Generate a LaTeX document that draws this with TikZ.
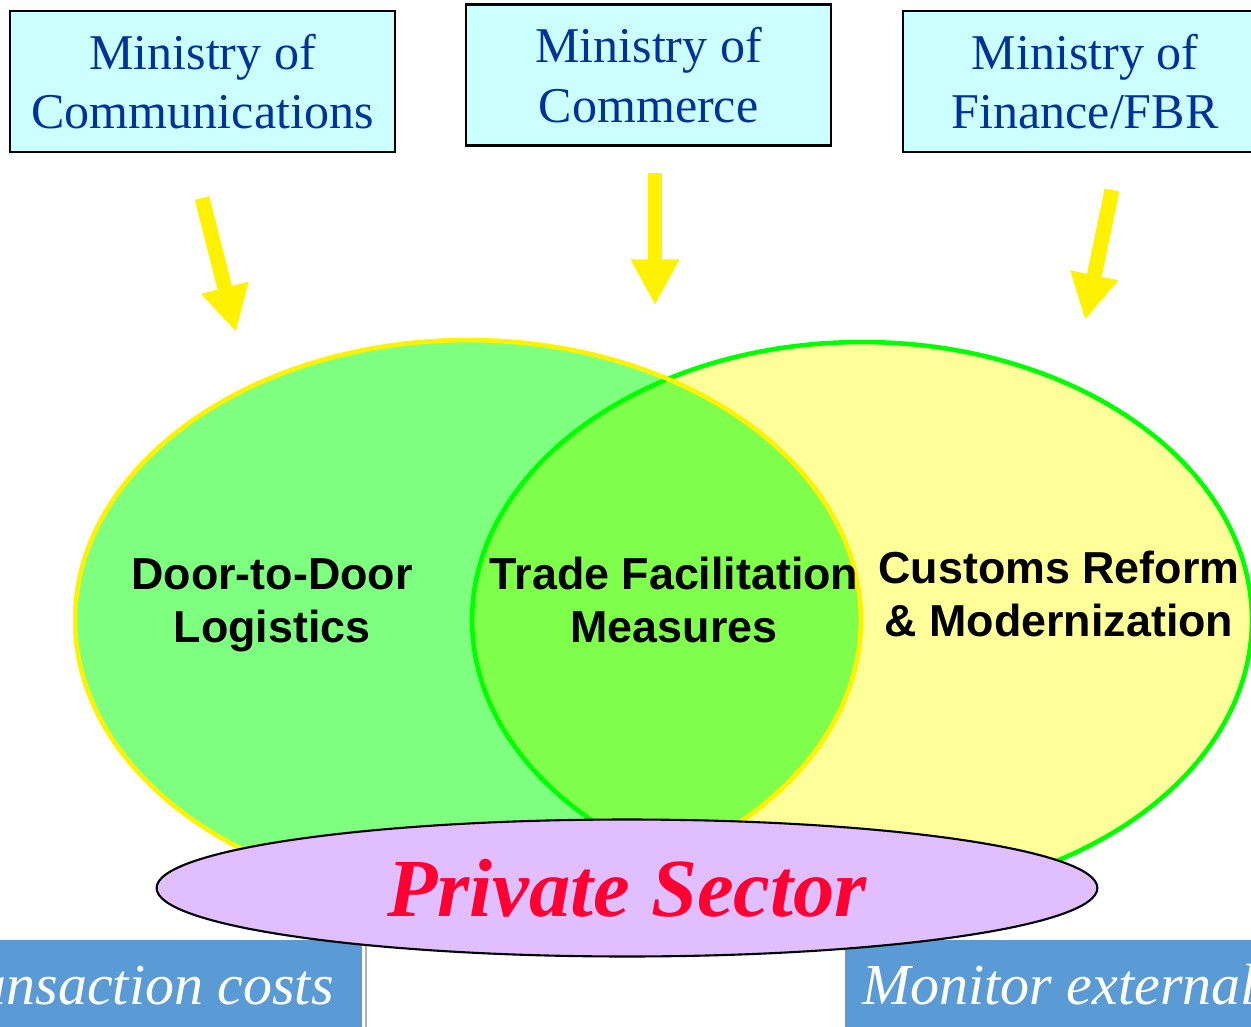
\documentclass[tikz,border=0pt]{standalone}
\usepackage{fontspec}
\setmainfont{Liberation Serif}
\setsansfont{Liberation Sans}
\usetikzlibrary{arrows.meta, shapes.geometric, positioning}

\definecolor{boxcyan}{RGB}{204,255,255}
\definecolor{ministryblue}{RGB}{0,51,153}
\definecolor{venngreen}{RGB}{0,255,0}
\definecolor{vennyellow}{RGB}{255,255,153}
\definecolor{lavender}{RGB}{225,190,255}
\definecolor{sectorred}{RGB}{255,0,51}
\definecolor{barblue}{RGB}{91,155,213}

\begin{document}
\begin{tikzpicture}[x=0.02cm, y=-0.02cm,
  ministry/.style={draw=black, line width=1.2pt, fill=boxcyan, text=ministryblue, align=center,
    font=\fontsize{28.5}{34}\selectfont, minimum height=2.82cm, inner sep=0pt},
  area/.style={align=center, font=\sffamily\bfseries\fontsize{25.5}{30}\selectfont},
  feed/.style={yellow, line width=8.5pt, -{Triangle[length=26pt, width=26pt]}},
  venn/.style={ellipse, line width=2.6pt, inner sep=0pt},
  bartext/.style={text=white, font=\itshape\fontsize{33}{38}\selectfont, inner sep=0pt}
]
\useasboundingbox (0,0) rectangle (1251,1027);
\clip (0,0) rectangle (1251,1027);

% the three ministries
\node[ministry, minimum width=7.7cm] (comm) at (202.5,81.5) {Ministry of\\Communications};
\node[ministry, minimum width=7.3cm] (commerce) at (648.5,75) {Ministry of\\Commerce};
\node[ministry, minimum width=7.28cm] (finance) at (1085,81.5) {Ministry of\\Finance/FBR};

% circles
\node[venn, draw=venngreen, fill=vennyellow, minimum width=15.6cm, minimum height=11.12cm] (customs) at (862,620) {};
\node[venn, draw=yellow, fill=venngreen, fill opacity=.5, draw opacity=1, minimum width=15.72cm, minimum height=11.2cm] (logistics) at (468,620) {};

\node[area] (door) at (272,605) {Door-to-Door\\Logistics};
\node[area] (trade) at (674,600) {Trade Facilitation\\Measures};
\node[area] (reform) at (1059,594) {Customs Reform\\\& Modernization};

% arrows
\coordinate (commtail) at (202,198);
\coordinate (commtip) at (236,332);
\coordinate (commercetail) at (655,173);
\coordinate (commercetip) at (655,305);
\coordinate (financetail) at (1112,190);
\coordinate (financetip) at (1085,320);
\draw[feed] (commtail) -- (commtip);
\draw[feed] (commercetail) -- (commercetip);
\draw[feed] (financetail) -- (financetip);

% bottom bars
\fill[barblue] (0,940) rectangle (362,1027);
\fill[barblue] (845,940) rectangle (1251,1027);
\draw[gray!60, line width=1.2pt] (366,945) -- (366,1027);
\node[bartext, anchor=base east] (costs) at (334,1004) {ansaction costs};
\node[bartext, anchor=base west] (monitor) at (862,1004) {Monitor external};

\node[ellipse, draw=black, line width=1.2pt, fill=lavender, minimum width=18.82cm, minimum height=2.74cm,
  text=sectorred, font=\bfseries\itshape\fontsize{47}{50}\selectfont] (private) at (627,888) {Private Sector};

\end{tikzpicture}
\end{document}
